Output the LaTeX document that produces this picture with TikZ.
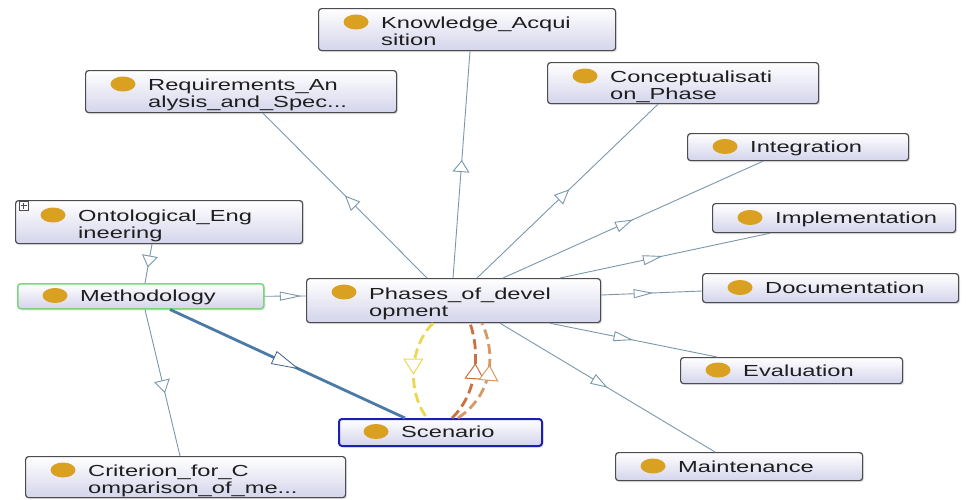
\documentclass[tikz,border=0pt]{standalone}
\usepackage{fontspec}
\newfontfamily\boxfont[FakeStretch=1.48]{Liberation Sans}
\usetikzlibrary{arrows.meta,decorations.markings,shadows}

\definecolor{edgec}{RGB}{122,152,172}
\definecolor{boxline}{RGB}{75,75,80}
\definecolor{boxfill}{RGB}{212,212,236}
\definecolor{dotc}{RGB}{218,160,34}
\definecolor{txtc}{RGB}{30,30,30}
\definecolor{methline}{RGB}{124,212,124}
\definecolor{scenline}{RGB}{26,32,176}
\definecolor{thickc}{RGB}{76,122,166}
\definecolor{yelc}{RGB}{236,216,80}
\definecolor{orac}{RGB}{204,112,64}
\definecolor{tanc}{RGB}{216,152,100}

\tikzset{
  cls/.style={rectangle, rounded corners=3pt, draw=boxline, line width=1.2pt,
    top color=white, bottom color=boxfill, anchor=north west, inner sep=0pt,
    drop shadow={shadow xshift=1.5pt, shadow yshift=-1.5pt, opacity=0.22}},
  lbl/.style={anchor=base west, inner sep=0pt, text=txtc, align=left,
    font=\boxfont\fontsize{16pt}{17.5pt}\selectfont},
  dot/.style={fill=dotc},
  isa/.style n args={3}{draw=edgec, line width=0.9pt, postaction={decorate},
    decoration={markings, mark=at position #1 with
      {\arrow{Triangle[open, length=#2pt, width=#3pt, fill=white, line width=0.9pt]}}}},
  thickisa/.style n args={3}{draw=thickc, line width=2.8pt, postaction={decorate},
    decoration={markings, mark=at position #1 with
      {\arrow[draw=thickc!80!black]{Triangle[open, length=#2pt, width=#3pt, fill=white, line width=0.8pt]}}}},
  dashisa/.style n args={4}{draw=#4, line width=2.8pt, dash pattern=on 10pt off 5pt, postaction={decorate},
    decoration={markings, mark=at position #1 with
      {\arrow{Triangle[open, length=#2pt, width=#3pt, fill=white, line width=1pt]}}}},
}

\begin{document}
\begin{tikzpicture}[x=1pt, y=-1pt]
  \fill[white] (0,0) rectangle (980,499);
  \useasboundingbox (0,0) rectangle (980,499);

  % class boxes
  \node[cls, minimum width=297pt, minimum height=42pt] (ka)  at (318,8)   {};
  \node[cls, minimum width=311pt, minimum height=42pt] (req) at (85,70)   {};
  \node[cls, minimum width=271pt, minimum height=41pt] (con) at (547,62)  {};
  \node[cls, minimum width=221pt, minimum height=27pt] (int) at (687,133) {};
  \node[cls, minimum width=243pt, minimum height=29pt] (imp) at (712,203) {};
  \node[cls, minimum width=256pt, minimum height=29pt] (doc) at (702,273) {};
  \node[cls, minimum width=222pt, minimum height=26pt] (eva) at (680,357) {};
  \node[cls, minimum width=247pt, minimum height=28pt] (mai) at (615,452) {};
  \node[cls, minimum width=294pt, minimum height=44pt] (pha) at (306,278) {};
  \node[cls, minimum width=287pt, minimum height=43pt] (ont) at (15,200)  {};
  \node[cls, minimum width=320pt, minimum height=41pt] (cri) at (25,456)  {};
  \node[cls, minimum width=246pt, minimum height=25pt, draw=methline, line width=1.5pt] (met) at (17,283) {};
  \node[cls, minimum width=203pt, minimum height=27pt, draw=scenline, line width=2pt] (sce) at (338,418) {};

  % expand marker
  \node[draw=boxline, fill=white, line width=0.6pt, minimum size=9pt, inner sep=0pt, anchor=north west] (plus) at (19,201) {};
  \draw[boxline, line width=0.9pt] ([xshift=-2.8pt]plus.center) -- ([xshift=2.8pt]plus.center)
                                   ([yshift=-2.8pt]plus.center) -- ([yshift=2.8pt]plus.center);

  % class dots
  \foreach \b/\dy in {ka/14, req/14, con/14, pha/14, ont/15, cri/14,
                      int/13.5, imp/14.5, doc/14.5, eva/13, mai/14, met/12.5, sce/13.5}
    \fill[dot] ([shift={(38,\dy)}]\b.north west) ellipse (12.5pt and 7.5pt);

  % labels (two-line labels are placed by the baseline of their second line)
  \node[lbl] (kaT)  at ([shift={(63,37.5)}]ka.north west)  {Knowledge\_Acqui\\sition};
  \node[lbl] (reqT) at ([shift={(63,37.5)}]req.north west) {Requirements\_An\\alysis\_and\_Spec...};
  \node[lbl] (conT) at ([shift={(63,37.5)}]con.north west) {Conceptualisati\\on\_Phase};
  \node[lbl] (phaT) at ([shift={(63,38.5)}]pha.north west) {Phases\_of\_devel\\opment};
  \node[lbl] (ontT) at ([shift={(63,38.5)}]ont.north west) {Ontological\_Eng\\ineering};
  \node[lbl] (criT) at ([shift={(63,37.5)}]cri.north west) {Criterion\_for\_C\\omparison\_of\_me...};
  \node[lbl] (intT) at ([shift={(63,19.5)}]int.north west) {Integration};
  \node[lbl] (impT) at ([shift={(63,20.5)}]imp.north west) {Implementation};
  \node[lbl] (docT) at ([shift={(63,20.5)}]doc.north west) {Documentation};
  \node[lbl] (evaT) at ([shift={(63,19)}]eva.north west) {Evaluation};
  \node[lbl] (maiT) at ([shift={(63,20)}]mai.north west) {Maintenance};
  \node[lbl] (metT) at ([shift={(63,18.5)}]met.north west) {Methodology};
  \node[lbl] (sceT) at ([shift={(63,19.5)}]sce.north west) {Scenario};

  % subclass edges from the phases hub
  \draw[isa={0.5}{15}{13}]  ([xshift=121pt]pha.north west) -- ([xshift=178pt]req.south west);
  \draw[isa={0.52}{12}{17}] ([xshift=147pt]pha.north west) -- ([xshift=152pt]ka.south west);
  \draw[isa={0.51}{15}{13}] ([xshift=171pt]pha.north west) -- ([xshift=111pt]con.south west);
  \draw[isa={0.5}{18}{11}]  ([xshift=197pt]pha.north west) -- ([xshift=76pt]int.south west);
  \draw[isa={0.49}{20}{10}] ([xshift=254pt]pha.north west) -- ([xshift=58pt]imp.south west);
  \draw[isa={0.52}{20}{9}]  ([yshift=-17pt]pha.north east) -- ([yshift=-18pt]doc.north west);
  \draw[isa={0.5}{20}{10}]  ([xshift=244pt]pha.south west) -- ([xshift=37pt]eva.north west);
  \draw[isa={0.5}{17}{11}]  ([xshift=194pt]pha.south west) -- ([xshift=100pt]mai.north west);

  % methodology edges
  \draw[isa={0.9}{22}{9}]   (met.east) -- ([yshift=-18pt]pha.north west);
  \draw[isa={0.6}{12}{16}]  ([xshift=137pt]ont.south west) -- ([xshift=128pt]met.north west);
  \draw[isa={0.57}{13}{16}] ([xshift=128pt]met.south west) -- ([xshift=155pt]cri.north west);
  \draw[thickisa={0.55}{28}{14}] ([xshift=153pt]met.south west) -- ([xshift=67pt]sce.north west);

  % scenario relations
  \draw[dashisa={0.55}{16}{20}{yelc}] ([xshift=127pt]pha.south west)
     .. controls ([shift={(102,25)}]pha.south west) and ([shift={(70,-25)}]sce.north west) .. ([xshift=89pt]sce.north west);
  \draw[dashisa={0.6}{16}{20}{orac}] ([xshift=114pt]sce.north west)
     .. controls ([shift={(140,-25)}]sce.north west) and ([shift={(174,28)}]pha.south west) .. ([xshift=164pt]pha.south west);
  \draw[dashisa={0.6}{16}{20}{tanc}] ([xshift=120pt]sce.north west)
     .. controls ([shift={(157,-25)}]sce.north west) and ([shift={(189,28)}]pha.south west) .. ([xshift=176pt]pha.south west);
\end{tikzpicture}
\end{document}
